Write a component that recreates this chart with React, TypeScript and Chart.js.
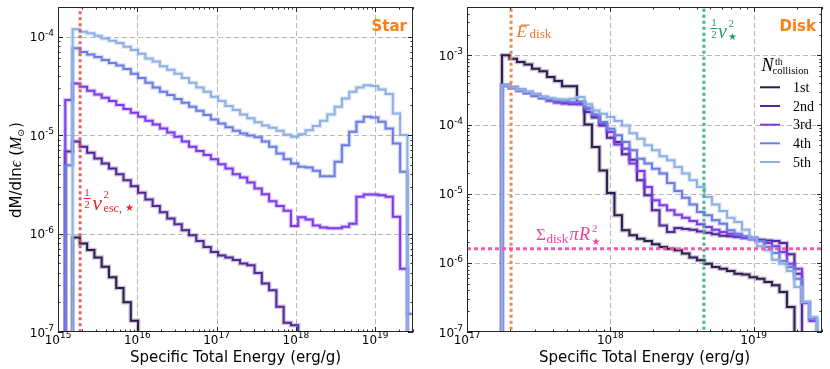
import React, { useEffect, useRef } from 'react';
import { Chart, registerables } from 'chart.js';

Chart.register(...registerables);

// ---------------- axis ranges ----------------
const STAR_X_MIN = 1e15;
const STAR_X_MAX = 3e19;
const STAR_Y_MIN = 1e-7;
const STAR_Y_MAX = 2e-4;
const DISK_X_MIN = 1e17;
const DISK_X_MAX = 3e19;
const DISK_Y_MIN = 1e-7;
const DISK_Y_MAX = 5e-3;

// histogram bins (log10 of specific energy of first edge, bin width in dex, count)
const STAR_BIN_LOG_START = 15.0;
const STAR_BIN_LOG_WIDTH = 0.0918;
const STAR_BIN_COUNT = 49;
const DISK_BIN_LOG_START = 17.244;
const DISK_BIN_LOG_WIDTH = 0.05233;
const DISK_BIN_COUNT = 42;

// tick exponents
const starXTickExp = [15, 16, 17, 18, 19];
const starYTickExp = [-7, -6, -5, -4];
const diskXTickExp = [17, 18, 19];
const diskYTickExp = [-7, -6, -5, -4, -3];

// series labels / colours
const collisionLabels = ['1st', '2nd', '3rd', '4th', '5th'];
const collisionColors = ['#2d1e4f', '#4f2a95', '#7b3ce8', '#6b7ce3', '#8fb0e3'];

// reference markers
const starEscapeEnergy = 1.9e15;
const diskMeanEnergy = 2.03e17;
const starHalfVSquared = 4.5e18;
const diskSigmaPiR2 = 1.6e-6;

// ---------------- Star panel: dM/dln(eps) per bin ----------------
const starCollision1 = [
  0, 0, 9.1e-7, 7.9e-7, 6.8e-7, 5.7e-7, 4.6e-7, 3.6e-7, 2.8e-7, 2.0e-7,
  1.3e-7, 0, 0, 0, 0, 0, 0, 0, 0, 0,
  0, 0, 0, 0, 0, 0, 0, 0, 0, 0,
  0, 0, 0, 0, 0, 0, 0, 0, 0, 0,
  0, 0, 0, 0, 0, 0, 0, 0, 0,
];
const starCollision2 = [
  0, 6.8e-6, 8.6e-6, 7.6e-6, 6.6e-6, 5.8e-6, 5.15e-6, 4.58e-6, 4.01e-6, 3.48e-6,
  3.03e-6, 2.59e-6, 2.22e-6, 1.9e-6, 1.65e-6, 1.42e-6, 1.24e-6, 1.08e-6, 9.6e-7, 8.4e-7,
  7.3e-7, 6.5e-7, 6.0e-7, 5.7e-7, 5.4e-7, 4.95e-7, 4.76e-7, 3.98e-7, 3.1e-7, 2.65e-7,
  1.8e-7, 1.24e-7, 1.17e-7, 0, 0, 0, 0, 0, 0, 0,
  0, 0, 0, 0, 0, 0, 0, 0, 0,
];
const starCollision3 = [
  0, 2.27e-5, 3.35e-5, 3.1e-5, 2.82e-5, 2.59e-5, 2.4e-5, 2.22e-5, 2.02e-5, 1.84e-5,
  1.69e-5, 1.54e-5, 1.4e-5, 1.28e-5, 1.17e-5, 1.06e-5, 9.6e-6, 8.6e-6, 7.6e-6, 6.9e-6,
  6.26e-6, 5.7e-6, 5.07e-6, 4.58e-6, 4.01e-6, 3.71e-6, 3.3e-6, 2.87e-6, 2.51e-6, 2.13e-6,
  1.9e-6, 1.7e-6, 1.19e-6, 1.46e-6, 1.39e-6, 1.21e-6, 1.15e-6, 1.13e-6, 1.13e-6, 1.17e-6,
  1.26e-6, 2.36e-6, 2.49e-6, 2.49e-6, 2.45e-6, 2.36e-6, 1.48e-6, 4.4e-7, 0,
];
const starCollision4 = [
  0, 4.95e-6, 7.6e-5, 7.0e-5, 6.6e-5, 6.2e-5, 5.8e-5, 5.4e-5, 5.1e-5, 4.7e-5,
  4.2e-5, 3.8e-5, 3.4e-5, 3.05e-5, 2.76e-5, 2.55e-5, 2.32e-5, 2.13e-5, 1.94e-5, 1.77e-5,
  1.6e-5, 1.44e-5, 1.31e-5, 1.2e-5, 1.11e-5, 1.04e-5, 9.9e-6, 9.5e-6, 8.6e-6, 7.6e-6,
  6.5e-6, 5.7e-6, 5.15e-6, 4.76e-6, 4.69e-6, 4.34e-6, 3.83e-6, 3.83e-6, 5.35e-6, 7.9e-6,
  1.08e-5, 1.37e-5, 1.54e-5, 1.51e-5, 1.37e-5, 1.17e-5, 8.2e-6, 4.24e-6, 1.53e-7,
];
const starCollision5 = [
  0, 0, 1.19e-4, 1.12e-4, 1.08e-4, 1.02e-4, 9.6e-5, 9.1e-5, 8.6e-5, 7.9e-5,
  7.3e-5, 6.7e-5, 6.0e-5, 5.6e-5, 5.0e-5, 4.6e-5, 4.2e-5, 3.8e-5, 3.4e-5, 3.05e-5,
  2.76e-5, 2.45e-5, 2.22e-5, 1.97e-5, 1.8e-5, 1.62e-5, 1.48e-5, 1.35e-5, 1.25e-5, 1.19e-5,
  1.11e-5, 1.01e-5, 9.6e-6, 1.02e-5, 1.12e-5, 1.24e-5, 1.4e-5, 1.62e-5, 1.94e-5, 2.36e-5,
  2.76e-5, 3.05e-5, 3.2e-5, 3.15e-5, 2.91e-5, 2.61e-5, 1.66e-5, 1.0e-5, 0,
];

// ---------------- Disk panel ----------------
const diskCollision1 = [
  1.0e-3, 8.95e-4, 8.0e-4, 7.4e-4, 6.4e-4, 5.9e-4, 4.86e-4, 4.25e-4, 3.56e-4, 3.56e-4,
  2.11e-4, 1.0e-4, 4.73e-5, 2.17e-5, 1.02e-5, 4.86e-6, 2.95e-6, 2.5e-6, 2.23e-6, 2.07e-6,
  1.85e-6, 1.69e-6, 1.6e-6, 1.52e-6, 1.36e-6, 1.19e-6, 1.09e-6, 9.7e-7, 8.7e-7, 8.2e-7,
  7.6e-7, 6.97e-7, 6.8e-7, 6.2e-7, 5.9e-7, 5.3e-7, 4.73e-7, 3.79e-7, 2.3e-7, 0,
  0, 0,
];
const diskCollision2 = [
  3.68e-4, 3.41e-4, 3.12e-4, 2.89e-4, 2.64e-4, 2.44e-4, 2.24e-4, 2.11e-4, 2.05e-4, 2.0e-4,
  2.0e-4, 1.52e-4, 1.26e-4, 9.7e-5, 6.45e-5, 5.58e-5, 3.7e-5, 3.1e-5, 1.56e-5, 9.5e-6,
  5.74e-6, 3.48e-6, 2.79e-6, 3.19e-6, 3.08e-6, 3.02e-6, 2.85e-6, 2.73e-6, 2.58e-6, 2.47e-6,
  2.42e-6, 2.36e-6, 2.31e-6, 2.24e-6, 2.16e-6, 2.11e-6, 2.07e-6, 1.94e-6, 1.33e-6, 6.97e-7,
  0, 0,
];
const diskCollision3 = [
  3.66e-4, 3.4e-4, 3.1e-4, 2.87e-4, 2.62e-4, 2.42e-4, 2.22e-4, 2.08e-4, 2.02e-4, 1.98e-4,
  1.96e-4, 1.69e-4, 1.36e-4, 1.03e-4, 7.8e-5, 5.16e-5, 4.47e-5, 2.72e-5, 2.13e-5, 1.25e-5,
  8.0e-6, 6.8e-6, 5.74e-6, 4.97e-6, 4.5e-6, 4.02e-6, 3.6e-6, 3.3e-6, 3.02e-6, 2.79e-6,
  2.64e-6, 2.42e-6, 2.28e-6, 2.19e-6, 2.07e-6, 1.94e-6, 1.73e-6, 1.43e-6, 9.7e-7, 8.2e-7,
  2.63e-7, 1.44e-7,
];
const diskCollision4 = [
  3.68e-4, 3.41e-4, 3.19e-4, 2.95e-4, 2.73e-4, 2.5e-4, 2.34e-4, 2.24e-4, 2.19e-4, 2.11e-4,
  2.11e-4, 1.75e-4, 1.4e-4, 1.09e-4, 8.7e-5, 6.97e-5, 5.58e-5, 4.23e-5, 3.21e-5, 2.72e-5,
  2.3e-5, 1.95e-5, 1.43e-5, 1.09e-5, 8.75e-6, 7.0e-6, 5.43e-6, 4.86e-6, 4.12e-6, 3.68e-6,
  2.95e-6, 2.64e-6, 2.42e-6, 2.31e-6, 2.07e-6, 1.69e-6, 1.39e-6, 1.06e-6, 8.7e-7, 5.9e-7,
  2.72e-7, 1.56e-7,
];
const diskCollision5 = [
  3.7e-4, 3.43e-4, 3.19e-4, 2.95e-4, 2.73e-4, 2.5e-4, 2.42e-4, 2.31e-4, 2.29e-4, 2.36e-4,
  2.5e-4, 1.96e-4, 1.6e-4, 1.43e-4, 1.28e-4, 1.12e-4, 9.7e-5, 7.5e-5, 6.24e-5, 5.0e-5,
  4.23e-5, 3.47e-5, 3.03e-5, 2.43e-5, 1.95e-5, 1.56e-5, 1.25e-5, 8.95e-6, 7.0e-6, 5.61e-6,
  4.5e-6, 3.89e-6, 3.02e-6, 2.24e-6, 1.73e-6, 1.52e-6, 1.11e-6, 9.7e-7, 7.6e-7, 4.47e-7,
  2.72e-7, 1.65e-7,
];

const starSeries = [starCollision1, starCollision2, starCollision3, starCollision4, starCollision5];
const diskSeries = [diskCollision1, diskCollision2, diskCollision3, diskCollision4, diskCollision5];

const starEdges = Array.from({ length: STAR_BIN_COUNT + 1 }, (_, i) => 10 ** (STAR_BIN_LOG_START + i * STAR_BIN_LOG_WIDTH));
const diskEdges = Array.from({ length: DISK_BIN_COUNT + 1 }, (_, i) => 10 ** (DISK_BIN_LOG_START + i * DISK_BIN_LOG_WIDTH));

const FLOOR = 1e-12; // below the axis: histogram drops out of view

function stepPoints(edges: number[], vals: number[]) {
  const s = vals.findIndex((v) => v > 0);
  let e = vals.length - 1;
  while (e >= 0 && !(vals[e] > 0)) e--;
  const pts: { x: number; y: number }[] = [{ x: edges[s], y: FLOOR }];
  for (let k = s; k <= e; k++) pts.push({ x: edges[k], y: vals[k] > 0 ? vals[k] : FLOOR });
  pts.push({ x: edges[e + 1], y: FLOOR });
  return pts;
}

function hexToRgba(hex: string, alpha: number) {
  const n = parseInt(hex.slice(1), 16);
  return `rgba(${(n >> 16) & 255}, ${(n >> 8) & 255}, ${n & 255}, ${alpha})`;
}

function seriesDatasets(edges: number[], series: number[][]) {
  const out: any[] = [];
  for (let i = series.length - 1; i >= 0; i--) {
    const pts = stepPoints(edges, series[i]);
    out.push({
      label: collisionLabels[i],
      data: pts,
      borderColor: collisionColors[i],
      borderWidth: 2,
      stepped: true,
      pointRadius: 0,
      fill: false,
    });
    out.push({
      label: collisionLabels[i] + ' halo',
      data: pts,
      borderColor: hexToRgba(collisionColors[i], 0.28),
      borderWidth: 4.5,
      stepped: true,
      pointRadius: 0,
      fill: false,
    });
  }
  return out;
}

function vline(x: number, color: string) {
  return {
    label: 'marker',
    data: [{ x, y: FLOOR }, { x, y: 1 }],
    borderColor: color,
    borderWidth: 3,
    borderDash: [3, 3],
    pointRadius: 0,
    fill: false,
  };
}
function hline(y: number, x0: number, x1: number, color: string) {
  return {
    label: 'marker',
    data: [{ x: x0, y }, { x: x1, y }],
    borderColor: color,
    borderWidth: 3,
    borderDash: [4, 3],
    pointRadius: 0,
    fill: false,
  };
}

// ---------------- drawing helpers ----------------
const SANS = '"DejaVu Sans"';
const SERIF = '"Liberation Serif"';

function logTicks(min: number, max: number) {
  const majors: number[] = [];
  const minors: number[] = [];
  for (let e = Math.floor(Math.log10(min)); e <= Math.ceil(Math.log10(max)); e++) {
    for (let m = 1; m <= 9; m++) {
      const v = m * 10 ** e;
      if (v < min * 0.999 || v > max * 1.001) continue;
      (m === 1 ? majors : minors).push(v);
    }
  }
  return { majors, minors };
}

function drawPow(ctx: CanvasRenderingContext2D, exp: number, x: number, y: number, align: string) {
  const base = '10';
  const sup = String(exp);
  ctx.font = `12px ${SANS}`;
  const wb = ctx.measureText(base).width;
  ctx.font = `9px ${SANS}`;
  const ws = ctx.measureText(sup).width;
  const total = wb + ws;
  const x0 = align === 'center' ? x - total / 2 : x - total;
  ctx.textAlign = 'left';
  ctx.font = `12px ${SANS}`;
  ctx.fillText(base, x0, y);
  ctx.font = `9px ${SANS}`;
  ctx.fillText(sup, x0 + wb, y - 5.5);
}

function drawHalf(ctx: CanvasRenderingContext2D, cx: number, barY: number, color: string) {
  ctx.fillStyle = color;
  ctx.font = `11px ${SERIF}`;
  ctx.textAlign = 'center';
  ctx.fillText('1', cx, barY - 2.5);
  ctx.fillText('2', cx, barY + 9.5);
  ctx.fillRect(cx - 3.5, barY - 0.5, 7, 1);
  ctx.textAlign = 'left';
}

function makeDecor(cfg: any) {
  return {
    id: 'decor',
    beforeDatasetsDraw(chart: any) {
      const { ctx, chartArea: a, scales } = chart;
      const x = scales.x;
      const y = scales.y;
      ctx.save();
      ctx.strokeStyle = '#b9b9b9';
      ctx.lineWidth = 1;
      ctx.setLineDash([5, 3]);
      for (const e of cfg.xExp) {
        const v = 10 ** e;
        if (v <= x.min * 1.001 || v >= x.max * 0.999) continue;
        const px = Math.round(x.getPixelForValue(v)) + 0.5;
        ctx.beginPath();
        ctx.moveTo(px, a.top);
        ctx.lineTo(px, a.bottom);
        ctx.stroke();
      }
      for (const e of cfg.yExp) {
        const v = 10 ** e;
        if (v <= y.min * 1.001 || v >= y.max * 0.999) continue;
        const py = Math.round(y.getPixelForValue(v)) + 0.5;
        ctx.beginPath();
        ctx.moveTo(a.left, py);
        ctx.lineTo(a.right, py);
        ctx.stroke();
      }
      ctx.restore();
    },
    afterDatasetsDraw(chart: any) {
      const { ctx, chartArea: a, scales } = chart;
      const x = scales.x;
      const y = scales.y;
      ctx.save();
      ctx.setLineDash([]);
      // frame
      ctx.strokeStyle = '#262626';
      ctx.lineWidth = 1;
      ctx.strokeRect(a.left + 0.5, a.top + 0.5, a.right - a.left - 1, a.bottom - a.top - 1);
      // ticks
      const xt = logTicks(x.min, x.max);
      const yt = logTicks(y.min, y.max);
      ctx.beginPath();
      const tick = (vals: number[], len: number) => {
        for (const v of vals) {
          const px = Math.round(x.getPixelForValue(v)) + 0.5;
          ctx.moveTo(px, a.bottom);
          ctx.lineTo(px, a.bottom - len);
          ctx.moveTo(px, a.top);
          ctx.lineTo(px, a.top + len);
        }
      };
      const ytick = (vals: number[], len: number) => {
        for (const v of vals) {
          const py = Math.round(y.getPixelForValue(v)) + 0.5;
          ctx.moveTo(a.left, py);
          ctx.lineTo(a.left + len, py);
          ctx.moveTo(a.right, py);
          ctx.lineTo(a.right - len, py);
        }
      };
      tick(xt.majors, 5);
      tick(xt.minors, 2.5);
      ytick(yt.majors, 5);
      ytick(yt.minors, 2.5);
      ctx.stroke();
      // tick labels
      ctx.fillStyle = '#000';
      ctx.textBaseline = 'alphabetic';
      for (const e of cfg.xExp) drawPow(ctx, e, x.getPixelForValue(10 ** e), a.bottom + 11.5, 'center');
      for (const e of cfg.yExp) drawPow(ctx, e, a.left - 4, y.getPixelForValue(10 ** e) + 4.5, 'right');
      // x title
      ctx.font = `15px ${SANS}`;
      ctx.textAlign = 'center';
      ctx.fillText('Specific Total Energy (erg/g)', (a.left + a.right) / 2, a.bottom + 30);
      // panel title
      ctx.font = `bold 15px ${SANS}`;
      ctx.textAlign = 'right';
      ctx.fillStyle = '#ff7f0e';
      ctx.fillText(cfg.title, a.right - 6, a.top + 23.5);
      ctx.textAlign = 'left';
      cfg.extra(ctx, chart);
      ctx.restore();
    },
  };
}

function starExtra(ctx: CanvasRenderingContext2D, chart: any) {
  const x = chart.scales.x;
  const lx = x.getPixelForValue(starEscapeEnergy);
  const red = '#e3262b';
  drawHalf(ctx, lx + 7, 198.5, red);
  ctx.fillStyle = red;
  ctx.font = `italic 21px ${SERIF}`;
  ctx.fillText('v', lx + 12.5, 210);
  ctx.font = `11px ${SERIF}`;
  ctx.fillText('2', lx + 23.5, 197.5);
  ctx.font = `12px ${SERIF}`;
  ctx.fillText('esc,', lx + 23.5, 211.5);
  ctx.font = `10px ${SANS}`;
  ctx.fillText('★', lx + 45, 211);

  // y axis title
  ctx.save();
  ctx.translate(20.5, 218);
  ctx.rotate(-Math.PI / 2);
  ctx.fillStyle = '#000';
  let cx = 0;
  ctx.font = `15px ${SANS}`;
  ctx.fillText('dM/dln', cx, 0);
  cx += ctx.measureText('dM/dln').width;
  ctx.font = `italic 16px ${SERIF}`;
  ctx.fillText('ϵ', cx, 0);
  cx += ctx.measureText('ϵ').width + 5;
  ctx.font = `15px ${SANS}`;
  ctx.fillText('(', cx, 0);
  cx += ctx.measureText('(').width;
  ctx.font = `italic 16px ${SERIF}`;
  ctx.fillText('M', cx, 0);
  cx += ctx.measureText('M').width;
  ctx.font = `9px ${SANS}`;
  ctx.fillText('⊙', cx, 3);
  cx += ctx.measureText('⊙').width + 1;
  ctx.font = `15px ${SANS}`;
  ctx.fillText(')', cx, 0);
  ctx.restore();
}

function diskExtra(ctx: CanvasRenderingContext2D, chart: any) {
  const x = chart.scales.x;
  // E-bar disk
  const ox = x.getPixelForValue(diskMeanEnergy);
  const orange = '#e07a2e';
  ctx.fillStyle = orange;
  ctx.font = `italic 17px ${SERIF}`;
  ctx.fillText('E', ox + 5.5, 37);
  ctx.fillRect(ox + 9.5, 24.5, 9, 1.2);
  ctx.font = `13px ${SERIF}`;
  ctx.fillText('disk', ox + 18.5, 37.5);

  // half v_star^2
  const gx = x.getPixelForValue(starHalfVSquared);
  const green = '#24a070';
  drawHalf(ctx, gx + 10, 28.5, green);
  ctx.fillStyle = green;
  ctx.font = `italic 20px ${SERIF}`;
  ctx.fillText('v', gx + 14, 37.5);
  ctx.font = `11px ${SERIF}`;
  ctx.fillText('2', gx + 24.5, 27);
  ctx.font = `10px ${SANS}`;
  ctx.fillText('★', gx + 24, 39.5);

  // Sigma_disk pi R_star^2
  const pink = '#e8449c';
  ctx.fillStyle = pink;
  ctx.font = `17px ${SERIF}`;
  ctx.fillText('Σ', 116, 240);
  ctx.font = `13px ${SERIF}`;
  ctx.fillText('disk', 126.5, 243.3);
  ctx.font = `italic 18px ${SERIF}`;
  ctx.fillText('π', 149.5, 240);
  ctx.fillText('R', 159, 240);
  ctx.font = `11px ${SERIF}`;
  ctx.fillText('2', 172, 231.7);
  ctx.font = `10px ${SANS}`;
  ctx.fillText('★', 171.5, 245);

  // legend
  ctx.fillStyle = '#000';
  ctx.font = `italic 18px ${SERIF}`;
  ctx.fillText('N', 341.5, 70.7);
  ctx.font = `10px ${SERIF}`;
  ctx.fillText('th', 355, 64.5);
  ctx.font = `10.5px ${SERIF}`;
  ctx.fillText('collision', 352.5, 74);
  const rowY = [87.3, 106, 124.7, 143.3, 162];
  collisionLabels.forEach((lab, i) => {
    ctx.strokeStyle = collisionColors[i];
    ctx.lineWidth = 2;
    ctx.beginPath();
    ctx.moveTo(340, rowY[i]);
    ctx.lineTo(360, rowY[i]);
    ctx.stroke();
    ctx.fillStyle = '#000';
    ctx.font = `14px ${SERIF}`;
    ctx.fillText(lab, 373, rowY[i] + 4.5);
  });
}

function baseOptions(xmin: number, xmax: number, ymin: number, ymax: number, padding: any) {
  return {
    animation: false,
    responsive: false,
    devicePixelRatio: 1,
    events: [],
    layout: { padding },
    plugins: { legend: { display: false }, tooltip: { enabled: false } },
    scales: {
      x: { type: 'logarithmic', min: xmin, max: xmax, display: false, bounds: 'data' },
      y: { type: 'logarithmic', min: ymin, max: ymax, display: false, bounds: 'data' },
    },
  };
}

function starConfig(): any {
  return {
    type: 'line',
    data: {
      datasets: [vline(starEscapeEnergy, 'rgba(232, 76, 76, 0.9)'), ...seriesDatasets(starEdges, starSeries)],
    },
    options: baseOptions(STAR_X_MIN, STAR_X_MAX, STAR_Y_MIN, STAR_Y_MAX, { left: 58, right: 7, top: 7, bottom: 37 }),
    plugins: [makeDecor({ xExp: starXTickExp, yExp: starYTickExp, title: 'Star', extra: starExtra })],
  };
}

function diskConfig(): any {
  return {
    type: 'line',
    data: {
      datasets: [
        hline(diskSigmaPiR2, DISK_X_MIN, DISK_X_MAX, 'rgba(240, 84, 170, 0.95)'),
        vline(diskMeanEnergy, 'rgba(233, 132, 62, 0.95)'),
        vline(starHalfVSquared, 'rgba(56, 178, 136, 0.95)'),
        ...seriesDatasets(diskEdges, diskSeries),
      ],
    },
    options: baseOptions(DISK_X_MIN, DISK_X_MAX, DISK_Y_MIN, DISK_Y_MAX, { left: 47, right: 8, top: 7, bottom: 37 }),
    plugins: [makeDecor({ xExp: diskXTickExp, yExp: diskYTickExp, title: 'Disk', extra: diskExtra })],
  };
}

export default function App() {
  const leftRef = useRef<HTMLCanvasElement>(null);
  const rightRef = useRef<HTMLCanvasElement>(null);
  useEffect(() => {
    const c1 = new Chart(leftRef.current as HTMLCanvasElement, starConfig());
    const c2 = new Chart(rightRef.current as HTMLCanvasElement, diskConfig());
    return () => {
      c1.destroy();
      c2.destroy();
    };
  }, []);
  return (
    <div style={{ position: 'absolute', left: 0, top: 0, width: 830, height: 369, background: '#fff' }}>
      <canvas ref={leftRef} width={420} height={369} style={{ position: 'absolute', left: 0, top: 0, width: 420, height: 369 }} />
      <canvas ref={rightRef} width={410} height={369} style={{ position: 'absolute', left: 420, top: 0, width: 410, height: 369 }} />
    </div>
  );
}
